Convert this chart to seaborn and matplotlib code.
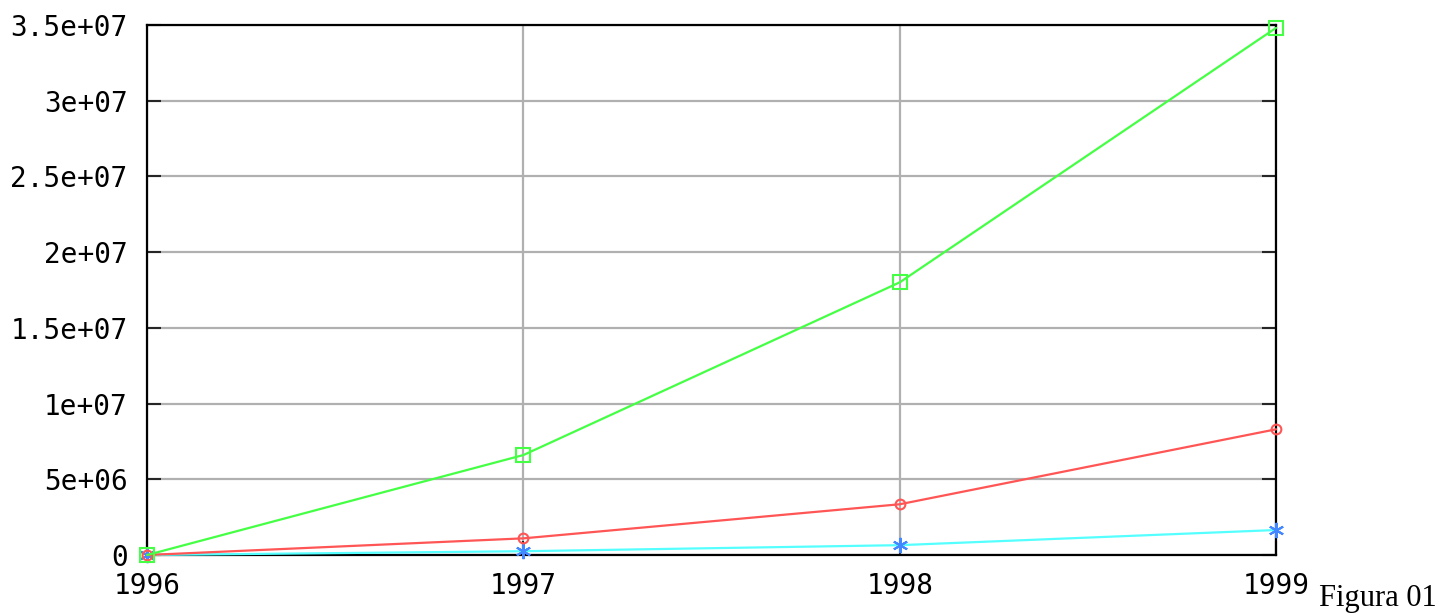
import matplotlib
matplotlib.use("Agg")
import matplotlib.pyplot as plt
import matplotlib.ticker as mticker
import pandas as pd
import seaborn as sns

years = [1996, 1997, 1998, 1999]
green_vals = [0, 6.6e6, 18.0e6, 34.8e6]
red_vals = [0, 1.1e6, 3.35e6, 8.3e6]
cyan_vals = [0, 0.25e6, 0.65e6, 1.65e6]
y_ticks = [0, 5e6, 1e7, 1.5e7, 2e7, 2.5e7, 3e7, 3.5e7]

sns.set_style("white")
plt.rcParams["font.family"] = ["DejaVu Sans Mono"]

fig = plt.figure(figsize=(14.42, 6.13), dpi=100)
ax = fig.add_axes([0.102, 0.0946, 0.783, 0.865])

series = [
    (cyan_vals, "#55ffff", (6, 2, 0), "#4488ff", 11),
    (red_vals, "#ff5555", "o", "#ff5555", 7),
    (green_vals, "#44ff44", "s", "#44ff44", 10),
]
for vals, col, mk, mkcol, ms in series:
    df = pd.DataFrame({"year": years, "value": vals})
    sns.lineplot(data=df, x="year", y="value", ax=ax, color=col, linewidth=1.6,
                 marker=mk, markersize=ms, clip_on=False,
                 markerfacecolor="none", markeredgecolor=mkcol, markeredgewidth=1.5,
                 zorder=3)

ax.set_xlim(1996, 1999)
ax.set_ylim(0, 3.5e7)
ax.set_xticks(years)
ax.set_yticks(y_ticks)
ax.yaxis.set_major_formatter(mticker.FormatStrFormatter("%g"))
ax.xaxis.set_major_formatter(mticker.FormatStrFormatter("%d"))
ax.grid(True, color="#b0b0b0", linewidth=1.6)
ax.set_axisbelow(True)
ax.set_xlabel("")
ax.set_ylabel("")
ax.tick_params(direction="in", length=10, width=1.5, labelsize=20,
               labelcolor="black", left=True, right=True, bottom=True, top=False)
ax.tick_params(axis="y", pad=14)
ax.tick_params(axis="x", pad=12)
for sp in ax.spines.values():
    sp.set_visible(True)
    sp.set_color("black")
    sp.set_linewidth(1.6)

fig.text(0.915, 0.012, "Figura 01", family=["Liberation Serif"], fontsize=22,
         color="black", ha="left", va="baseline")

fig.savefig("out.png", dpi=100)
